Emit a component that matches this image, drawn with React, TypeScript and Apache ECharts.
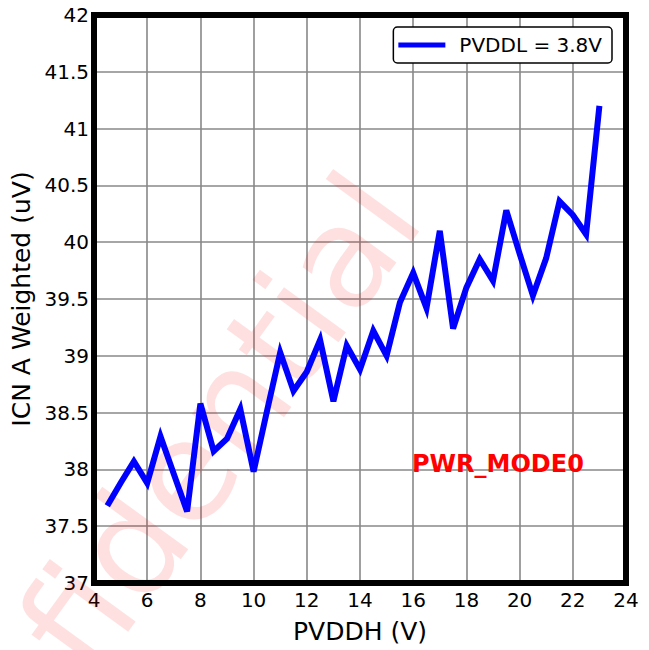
import React, { useEffect, useRef } from "react";
import * as echarts from "echarts";

// PVDDH supply sweep (V) and measured A-weighted idle channel noise (uV)
const pvddh = [
  4.5, 5, 5.5, 6, 6.5, 7, 7.5, 8, 8.5, 9, 9.5, 10, 10.5, 11, 11.5, 12, 12.5, 13,
  13.5, 14, 14.5, 15, 15.5, 16, 16.5, 17, 17.5, 18, 18.5, 19, 19.5, 20, 20.5, 21,
  21.5, 22, 22.5, 23,
];
const icnWeighted = [
  37.68, 37.88, 38.07, 37.88, 38.29, 37.96, 37.63, 38.58, 38.16, 38.27, 38.53,
  37.98, 38.51, 39.03, 38.69, 38.86, 39.14, 38.6, 39.09, 38.88, 39.22, 39.0,
  39.47, 39.73, 39.42, 40.1, 39.24, 39.6, 39.85, 39.66, 40.28, 39.9, 39.53,
  39.86, 40.36, 40.24, 40.07, 41.2,
];

const seriesName = "PVDDL = 3.8V";
const xTitle = "PVDDH (V)";
const yTitle = "ICN A Weighted (uV)";
const modeLabel = "PWR_MODE0";
const watermarkText = "Confidential";

const xRange = { min: 4, max: 24, step: 2 };
const yRange = { min: 37, max: 42, step: 0.5 };

const FONT = "DejaVu Sans";

export default function App() {
  const ref = useRef<HTMLDivElement>(null);

  useEffect(() => {
    if (!ref.current) return;
    const chart = echarts.init(ref.current, null, { renderer: "svg" });
    const points = pvddh.map((x, i) => [x, icnWeighted[i]]);

    chart.setOption({
      animation: false,
      backgroundColor: "#ffffff",
      textStyle: { fontFamily: FONT },
      grid: {
        left: 94,
        right: 23,
        top: 15,
        bottom: 67,
        show: true,
        borderColor: "#000000",
        borderWidth: 6,
        backgroundColor: "transparent",
        z: 5,
      },
      legend: {
        data: [seriesName],
        right: 37,
        top: 27,
        icon: "rect",
        itemWidth: 47,
        itemHeight: 5,
        padding: [8, 10, 8, 5],
        borderColor: "#000000",
        borderWidth: 1.5,
        borderRadius: 4,
        backgroundColor: "#ffffff",
        z: 10,
        textStyle: {
          fontSize: 20,
          color: "#000000",
          fontFamily: FONT,
          padding: [0, 0, 0, 9],
        },
      },
      xAxis: {
        type: "value",
        min: xRange.min,
        max: xRange.max,
        interval: xRange.step,
        name: xTitle,
        nameLocation: "middle",
        nameGap: 36,
        nameTextStyle: { fontSize: 25, color: "#000000", fontFamily: FONT },
        axisLine: { show: false },
        axisTick: { show: false },
        axisLabel: { fontSize: 20, color: "#000000", margin: 7, fontFamily: FONT },
        splitLine: {
          show: true,
          showMinLine: false,
          showMaxLine: false,
          lineStyle: { color: "#888888", width: 1.6 },
        },
      },
      yAxis: {
        type: "value",
        min: yRange.min,
        max: yRange.max,
        interval: yRange.step,
        name: yTitle,
        nameLocation: "middle",
        nameGap: 48,
        nameRotate: 90,
        nameTextStyle: { fontSize: 25, color: "#000000", fontFamily: FONT },
        axisLine: { show: false },
        axisTick: { show: false },
        axisLabel: { fontSize: 20, color: "#000000", margin: 5, fontFamily: FONT },
        splitLine: {
          show: true,
          showMinLine: false,
          showMaxLine: false,
          lineStyle: { color: "#888888", width: 1.6 },
        },
      },
      graphic: [
        {
          type: "text",
          x: 140,
          y: 533,
          rotation: (54 * Math.PI) / 180,
          z: 1,
          silent: true,
          style: {
            text: watermarkText,
            fontSize: 140,
            fontFamily: FONT,
            fill: "rgba(255,0,0,0.12)",
            textAlign: "center",
            textVerticalAlign: "middle",
            align: "center",
            verticalAlign: "middle",
          },
        },
        {
          type: "text",
          x: 412,
          y: 464,
          z: 20,
          silent: true,
          style: {
            text: modeLabel,
            fontSize: 24,
            fontWeight: "bold",
            fontFamily: FONT,
            fill: "#ff0000",
            textAlign: "left",
            textVerticalAlign: "middle",
            align: "left",
            verticalAlign: "middle",
          },
        },
      ],
      series: [
        {
          name: seriesName,
          type: "line",
          data: points,
          symbol: "none",
          z: 3,
          itemStyle: { color: "#0000ff" },
          lineStyle: { color: "#0000ff", width: 6, join: "miter", cap: "butt" },
        },
      ],
    });

    return () => chart.dispose();
  }, []);

  return (
    <div
      ref={ref}
      style={{
        position: "fixed",
        left: 0,
        top: 0,
        width: 649,
        height: 650,
        background: "#ffffff",
      }}
    />
  );
}
